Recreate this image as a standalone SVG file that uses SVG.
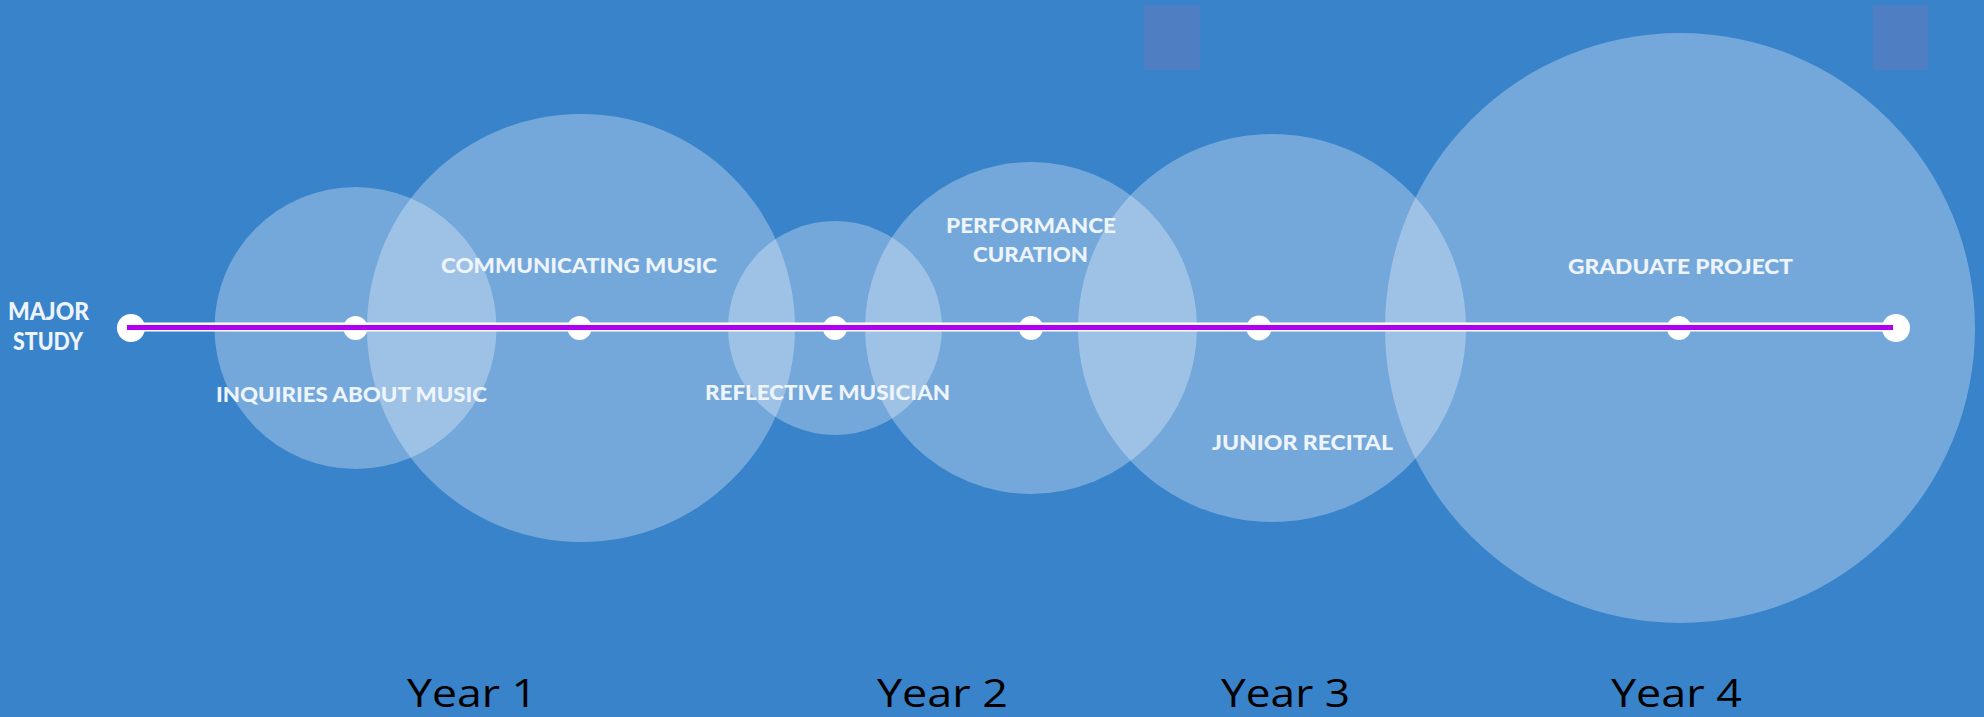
<svg xmlns="http://www.w3.org/2000/svg" width="1984" height="717" viewBox="0 0 1984 717">
<style>
.bubble{fill:#ffffff;fill-opacity:0.3}
.lbl{font-family:Lato,"Open Sans","DejaVu Sans",sans-serif;font-weight:900;font-size:21px;fill:#eef4fb;text-anchor:middle}
.big{font-size:24px}
.dot{fill:#ffffff}
.year{font-family:"Open Sans","Liberation Sans",sans-serif;font-size:39px;fill:#000000}
</style>
<rect x="0" y="0" width="1984" height="717" fill="#3883CA"/>
<rect x="1144" y="5" width="56" height="65" fill="#4F7FC2"/>
<rect x="1873" y="5" width="55" height="65" fill="#4F7FC2"/>
<g id="bubbles">
<circle id="c-inquiries" class="bubble" cx="355.5" cy="328" r="141"/>
<circle id="c-communicating" class="bubble" cx="581" cy="328" r="214"/>
<circle id="c-reflective" class="bubble" cx="835" cy="328" r="107"/>
<circle id="c-performance" class="bubble" cx="1031" cy="328" r="166"/>
<circle id="c-junior" class="bubble" cx="1272" cy="328" r="194"/>
<circle id="c-graduate" class="bubble" cx="1680" cy="328" r="295"/>
</g>
<g id="connectors">
<line x1="130" y1="327" x2="1896" y2="327" stroke="#ffffff" stroke-width="9"/>
</g>
<g id="n-major">
<circle class="dot" cx="131" cy="328" r="14"/>
<text class="lbl big" x="48.5" y="320" textLength="81" lengthAdjust="spacingAndGlyphs">MAJOR</text>
<text class="lbl big" x="48" y="350" textLength="70" lengthAdjust="spacingAndGlyphs">STUDY</text>
</g>
<g id="n-inquiries">
<circle class="dot" cx="355.5" cy="328" r="12"/>
<text class="lbl" x="351.5" y="402" textLength="271" lengthAdjust="spacingAndGlyphs">INQUIRIES ABOUT MUSIC</text>
</g>
<g id="n-communicating">
<circle class="dot" cx="579.5" cy="328" r="12"/>
<text class="lbl" x="579" y="273" textLength="276" lengthAdjust="spacingAndGlyphs">COMMUNICATING MUSIC</text>
</g>
<g id="n-reflective">
<circle class="dot" cx="835" cy="328" r="12"/>
<text class="lbl" x="827.5" y="400" textLength="245" lengthAdjust="spacingAndGlyphs">REFLECTIVE MUSICIAN</text>
</g>
<g id="n-performance">
<circle class="dot" cx="1031" cy="328" r="12"/>
<text class="lbl" x="1031" y="233" textLength="170" lengthAdjust="spacingAndGlyphs">PERFORMANCE</text>
<text class="lbl" x="1030.5" y="262" textLength="115" lengthAdjust="spacingAndGlyphs">CURATION</text>
</g>
<g id="n-junior">
<circle class="dot" cx="1259" cy="328" r="12.5"/>
<text class="lbl" x="1302.5" y="450" textLength="181" lengthAdjust="spacingAndGlyphs">JUNIOR RECITAL</text>
</g>
<g id="n-graduate">
<circle class="dot" cx="1679" cy="328" r="12"/>
<text class="lbl" x="1680.5" y="274" textLength="225" lengthAdjust="spacingAndGlyphs">GRADUATE PROJECT</text>
</g>
<g id="n-end">
<circle class="dot" cx="1896" cy="328" r="14"/>
</g>
<g id="connectors-top">
<line x1="127" y1="327.5" x2="1893" y2="327.5" stroke="#B000F0" stroke-width="5"/>
</g>
<g id="years">
<text class="year" x="407" y="707" textLength="130" lengthAdjust="spacingAndGlyphs">Year 1</text>
<text class="year" x="877" y="707" textLength="131" lengthAdjust="spacingAndGlyphs">Year 2</text>
<text class="year" x="1221" y="707" textLength="129" lengthAdjust="spacingAndGlyphs">Year 3</text>
<text class="year" x="1611" y="707" textLength="131" lengthAdjust="spacingAndGlyphs">Year 4</text>
</g>
</svg>
